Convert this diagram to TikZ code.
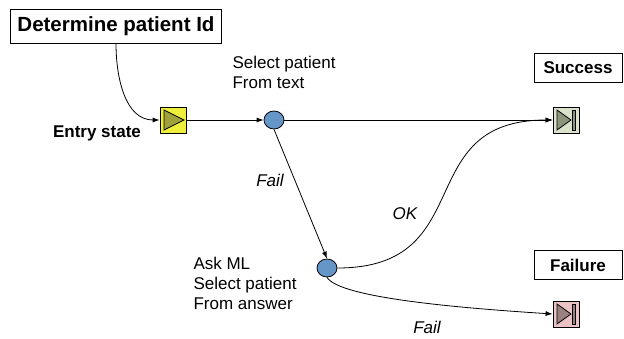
\documentclass[tikz,border=0pt]{standalone}
\usepackage{fontspec}
\setmainfont{Liberation Sans}
\usetikzlibrary{arrows.meta,shapes.geometric}
\definecolor{entryfill}{RGB}{240,238,60}
\definecolor{entrytri}{RGB}{160,160,60}
\definecolor{okfill}{RGB}{218,226,204}
\definecolor{oktri}{RGB}{140,150,125}
\definecolor{failfill}{RGB}{234,196,196}
\definecolor{failtri}{RGB}{155,128,128}
\definecolor{stepblue}{RGB}{100,150,200}

\begin{document}
\begin{tikzpicture}[x=1pt,y=-1pt,>={Latex[length=7pt,width=5pt]},
    txt/.style={font=\fontsize{17}{20}\selectfont,align=left},
    statelbl/.style={font=\fontsize{17}{20}\selectfont\bfseries},
    lbl/.style={font=\fontsize{17}{20}\selectfont\itshape},
    boxed/.style={draw,thick,fill=white,font=\fontsize{17}{20}\selectfont\bfseries,minimum width=88pt,minimum height=29pt},
    stepnode/.style={ellipse,draw,thick,fill=stepblue,minimum width=20pt,minimum height=18pt,inner sep=0pt},
    entrybox/.style={draw,thick,fill=entryfill,minimum size=26pt,inner sep=0pt,
        path picture={\draw[thick,fill=entrytri] ([xshift=4pt,yshift=-3pt]path picture bounding box.north west) -- ([xshift=4pt,yshift=3pt]path picture bounding box.south west) -- ([xshift=-2pt]path picture bounding box.east) -- cycle;}},
    exitbox/.style={draw,thick,fill=#1fill,minimum size=26pt,inner sep=0pt,
        path picture={\draw[thick,fill=#1tri] ([xshift=4pt,yshift=-3pt]path picture bounding box.north west) -- ([xshift=4pt,yshift=3pt]path picture bounding box.south west) -- ([xshift=-8pt]path picture bounding box.east) -- cycle;
        \draw[thick,fill=#1tri] ([xshift=-7pt,yshift=-3pt]path picture bounding box.north east) rectangle ([xshift=-4pt,yshift=3pt]path picture bounding box.south east);}}]
\useasboundingbox (0,0) rectangle (624,339);

% nodes
\node[draw,thick,font=\fontsize{20.5}{24}\selectfont\bfseries,minimum width=211pt,minimum height=34pt] (patid) at (116,26) {Determine patient Id};
\node[entrybox] (entry) at (173,120) {};
\node[statelbl] (entrylbl) at (97,133) {Entry state};
\node[stepnode] (fromtext) at (274,120) {};
\node[txt,anchor=north west] (fromtextlbl) at (229,53) {Select patient\\From text};
\node[stepnode] (askml) at (327,268) {};
\node[txt,anchor=north west] (askmllbl) at (190,254) {Ask ML\\Select patient\\From answer};
\node[boxed] (success) at (578,68) {Success};
\node[exitbox=ok] (okend) at (566,120) {};
\node[boxed] (failure) at (578,265) {Failure};
\node[exitbox=fail] (failend) at (566,314) {};
\node[lbl] (fail1) at (270,180) {Fail};
\node[lbl] (oklbl) at (405,214) {OK};
\node[lbl] (fail2) at (427,327) {Fail};

% connectors
\draw[thick,->] (patid.south) to[out=-90,in=180] (entry.west);
\draw[thick,->] (entry.east) -- (fromtext.west);
\draw[thick,->] (fromtext.east) -- (okend.west);
\draw[thick,->] (fromtext.south) -- (askml.north);
\draw[thick,->] (askml.east) to[out=0,in=180,looseness=1.4] (okend.west);
\draw[thick,->] (askml.south) .. controls (340,298) and (460,308) .. (failend.west);
\end{tikzpicture}
\end{document}
